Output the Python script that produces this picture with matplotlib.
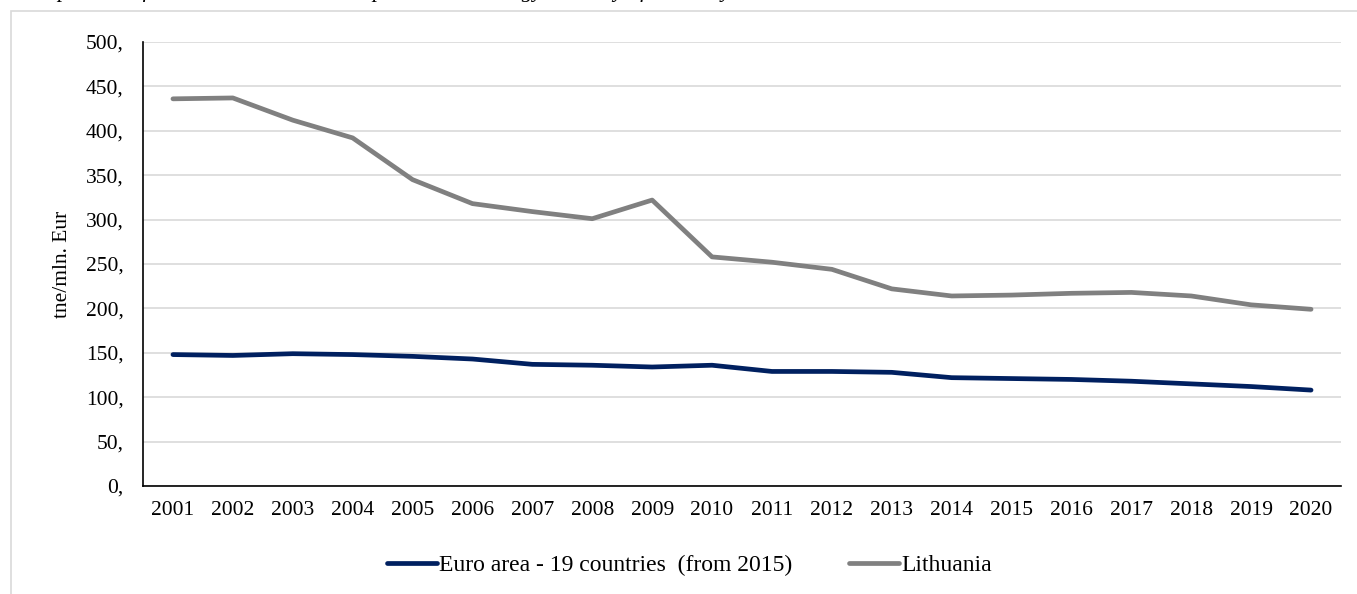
import matplotlib
matplotlib.use("Agg")
import matplotlib.pyplot as plt
from matplotlib.patches import Rectangle

years = [str(y) for y in range(2001, 2021)]
euro_area = [148, 147, 149, 148, 146, 143, 137, 136, 134, 136, 129, 129, 128, 122, 121, 120, 118, 115, 112, 108]
lithuania = [436, 437, 412, 392, 345, 318, 309, 301, 322, 258, 252, 244, 222, 214, 215, 217, 218, 214, 204, 199]
yticks = [0, 50, 100, 150, 200, 250, 300, 350, 400, 450, 500]

plt.rcParams['font.family'] = ['Liberation Serif', 'DejaVu Serif']

W, H = 1357, 594
fig = plt.figure(figsize=(W / 100, H / 100), dpi=100)

# outer light frame
fig.patches.append(Rectangle((11 / W, -0.01), 1.1, (H - 11) / H + 0.01, transform=fig.transFigure,
                             fill=False, edgecolor='#d9d9d9', linewidth=1.2))

# clipped caption at top (only descenders visible, as in the reference)
fig.text(0.012, 1.0 + 3.5 / H, "Comparison of the Lithuanian and European Union energy intensity of economy",
         fontsize=16, style='italic', ha='left', va='baseline')

ax = fig.add_axes([143 / W, (H - 486) / H, (1341 - 143) / W, (486 - 42) / H])
x = list(range(len(years)))
ax.plot(x, euro_area, color='#002060', linewidth=3.4, solid_capstyle='round',
        label='Euro area - 19 countries  (from 2015)')
ax.plot(x, lithuania, color='#808080', linewidth=3.4, solid_capstyle='round', label='Lithuania')

ax.set_xlim(-0.5, len(years) - 0.5)
ax.set_ylim(0, 500)
ax.set_xticks(x)
ax.set_xticklabels(years)
ax.set_yticks(yticks)
ax.set_yticklabels([f"{v}," for v in yticks])
ax.tick_params(axis='both', length=0, labelsize=15.5, colors='black')
ax.tick_params(axis='x', pad=11)
ax.tick_params(axis='y', pad=14)
ax.grid(axis='y', color='#d9d9d9', linewidth=1.2)
ax.set_axisbelow(True)
for s in ['top', 'right']:
    ax.spines[s].set_visible(False)
ax.spines['left'].set_color('black')
ax.spines['bottom'].set_color('black')
ax.spines['left'].set_linewidth(1.2)
ax.spines['bottom'].set_linewidth(1.2)
ax.set_ylabel('tne/mln. Eur', fontsize=15.5, labelpad=10)

fig.legend(loc='center', bbox_to_anchor=(0.508, 1 - 565 / H), ncol=2, frameon=False,
           fontsize=17, handlelength=2.1, handletextpad=0.1, columnspacing=2.4)

fig.savefig('out.png', dpi=100)
